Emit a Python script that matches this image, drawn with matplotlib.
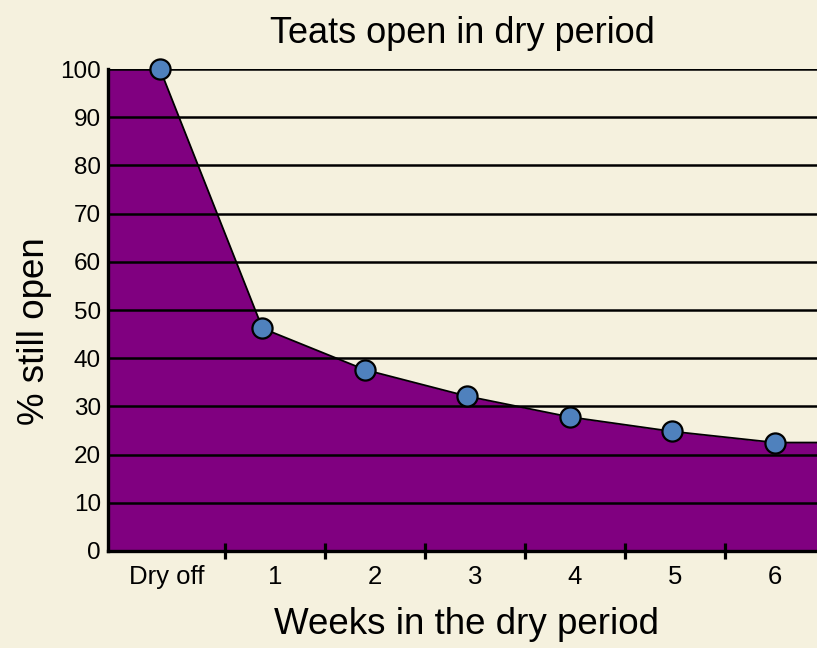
import numpy as np
import matplotlib.pyplot as plt
from matplotlib.transforms import offset_copy

plt.rcParams['font.family'] = ['Liberation Sans', 'DejaVu Sans']

# data
weeks = ['Dry off', '1', '2', '3', '4', '5', '6']
pct_open = [100, 46.2, 37.6, 32.1, 27.8, 24.8, 22.5]
y_ticks = [0, 10, 20, 30, 40, 50, 60, 70, 80, 90, 100]

bg = '#F5F1DE'
fig = plt.figure(figsize=(8.17, 6.48), dpi=100, facecolor=bg)
ax = fig.add_axes([0.1322, 0.1497, 0.8678, 0.7438], facecolor=bg)

x = np.arange(len(weeks))
xmin, xmax = -0.507, 6.41
ax.set_xlim(xmin, xmax)
ax.set_ylim(0, 100)

# area runs flat from the left axis to the first point and from the last point to the right edge
xa = np.r_[xmin, x, xmax]
ya = np.r_[pct_open[0], pct_open, pct_open[-1]]
ax.fill_between(xa, ya, 0, color='#800080', zorder=1, lw=0)
ax.plot(xa, ya, color='black', lw=1.3, zorder=1.5)

ax.set_yticks(y_ticks)
ax.grid(axis='y', color='black', lw=1.8)
ax.grid(axis='x', visible=False)
ax.set_axisbelow(False)

ax.plot(x, pct_open, 'o', ms=14.5, mfc='#4F81BD', mec='black', mew=1.6,
        zorder=4, clip_on=False)

# category labels sit between the tick marks
step = 0.9756
label_pos = 0.146 + step * np.arange(len(weeks))
ax.set_xticks(label_pos)
ax.set_xticklabels(weeks, fontsize=18.5)
ax.tick_params(axis='x', length=0, pad=10)
ax.set_xticks(label_pos[:-1] + step / 2, minor=True)
ax.tick_params(axis='x', which='minor', direction='inout', length=12, width=2.3, color='black')
ax.tick_params(axis='y', length=0, pad=5, labelsize=17.5)

# the first label sits a little left of its slot
first = ax.get_xticklabels()[0]
first.set_transform(offset_copy(first.get_transform(), fig=fig, x=-8, units='dots'))

for s in ['top', 'right']:
    ax.spines[s].set_visible(False)
for s in ['left', 'bottom']:
    ax.spines[s].set_linewidth(2.4)
    ax.spines[s].set_zorder(3)

ax.set_title('Teats open in dry period', fontsize=26, pad=19)
ax.set_xlabel('Weeks in the dry period', fontsize=26.5)
ax.set_ylabel('% still open', fontsize=26.5)
ax.xaxis.set_label_coords(0.505, -0.117)
ax.yaxis.set_label_coords(-0.079, 0.456)

fig.savefig('out.png', dpi=100, facecolor=bg)
